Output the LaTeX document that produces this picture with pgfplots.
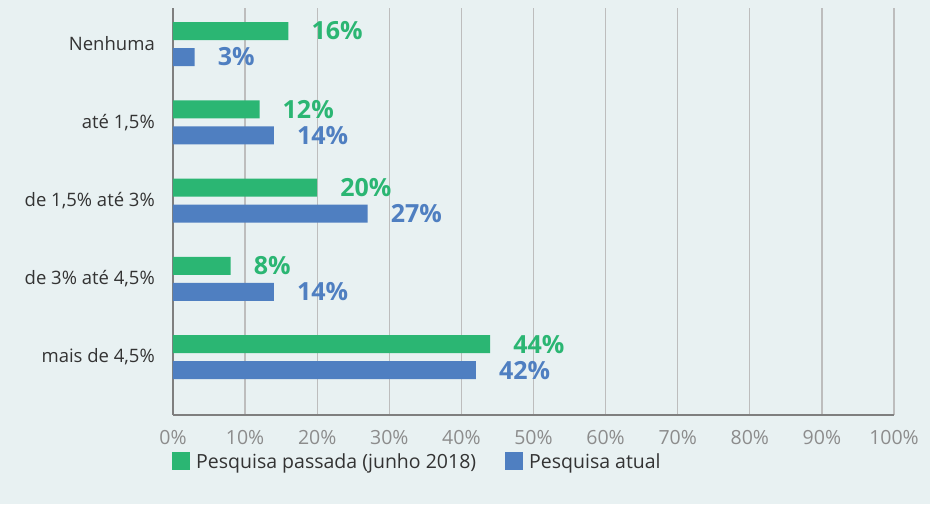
\documentclass[border=0pt]{standalone}
\usepackage{pgfplots}
\pgfplotsset{compat=1.18}
\usepackage{fontspec}
\setmainfont{Open Sans}
\definecolor{bg}{HTML}{E8F1F2}
\definecolor{cgreen}{HTML}{2BB673}
\definecolor{cblue}{HTML}{4F7FC1}
\definecolor{gridc}{HTML}{BDBDBD}
\definecolor{axc}{HTML}{7F7F7F}
\definecolor{tickc}{HTML}{8C8C8C}
\definecolor{labc}{HTML}{333333}
\begin{document}
\begin{tikzpicture}[x=1pt,y=1pt]
\fill[bg] (0,0) rectangle (930,504);
\begin{axis}[
 at={(173pt,89pt)}, anchor=south west,
 scale only axis, width=721pt, height=407pt,
 xmin=0, xmax=100, ymin=-0.46, ymax=4.74, y dir=reverse,
 axis x line=bottom, axis y line=left,
 axis line style={axc, line width=1.2pt, -},
 /pgf/number format/assume math mode=true,
 xtick={0,10,...,100},
 xticklabel={\pgfmathprintnumber{\tick}\%},
 xticklabel style={anchor=north, inner sep=0pt, yshift=-15pt, text=tickc, font=\fontsize{19.5}{19.5}\selectfont},
 ytick={0,1,2,3,4},
 yticklabels={Nenhuma,{até 1,5\%},{de 1,5\% até 3\%},{de 3\% até 4,5\%},{mais de 4,5\%}},
 yticklabel style={anchor=east, inner sep=0pt, xshift=-18pt, text=labc, font=\fontsize{18.5}{18.5}\selectfont},
 major tick length=0pt,
 xmajorgrids, grid style={gridc, line width=1.2pt},
 point meta=x,
 nodes near coords={\pgfmathprintnumber{\pgfplotspointmeta}\%},
 legend style={at={(0,0)}, anchor=north west, yshift=-36pt, xshift=-1pt, draw=none, fill=none, inner sep=0pt,
   font=\fontsize{19.5}{19.5}\selectfont, text=labc,
   /tikz/every odd column/.append style={column sep=4pt},
   /tikz/every even column/.append style={column sep=27pt}},
 legend columns=2, legend cell align=left,
]
\addplot[xbar, bar width=18pt, bar shift=0pt, fill=cgreen, draw=none,
  nodes near coords style={font=\bfseries\fontsize{25}{25}\selectfont, text=cgreen, anchor=west, inner sep=0pt, xshift=23pt},
  legend image code/.code={\fill[cgreen] (0pt,-9pt) rectangle (18pt,9pt);}]
  coordinates {(16,-0.166) (12,0.834) (20,1.834) (8,2.834) (44,3.834)};
\addlegendentry{Pesquisa passada (junho 2018)}
\addplot[xbar, bar width=18pt, bar shift=0pt, fill=cblue, draw=none,
  nodes near coords style={font=\bfseries\fontsize{25}{25}\selectfont, text=cblue, anchor=west, inner sep=0pt, xshift=23pt},
  legend image code/.code={\fill[cblue] (0pt,-9pt) rectangle (18pt,9pt);}]
  coordinates {(3,0.166) (14,1.166) (27,2.166) (14,3.166) (42,4.166)};
\addlegendentry{Pesquisa atual}
\end{axis}
\end{tikzpicture}
\end{document}
